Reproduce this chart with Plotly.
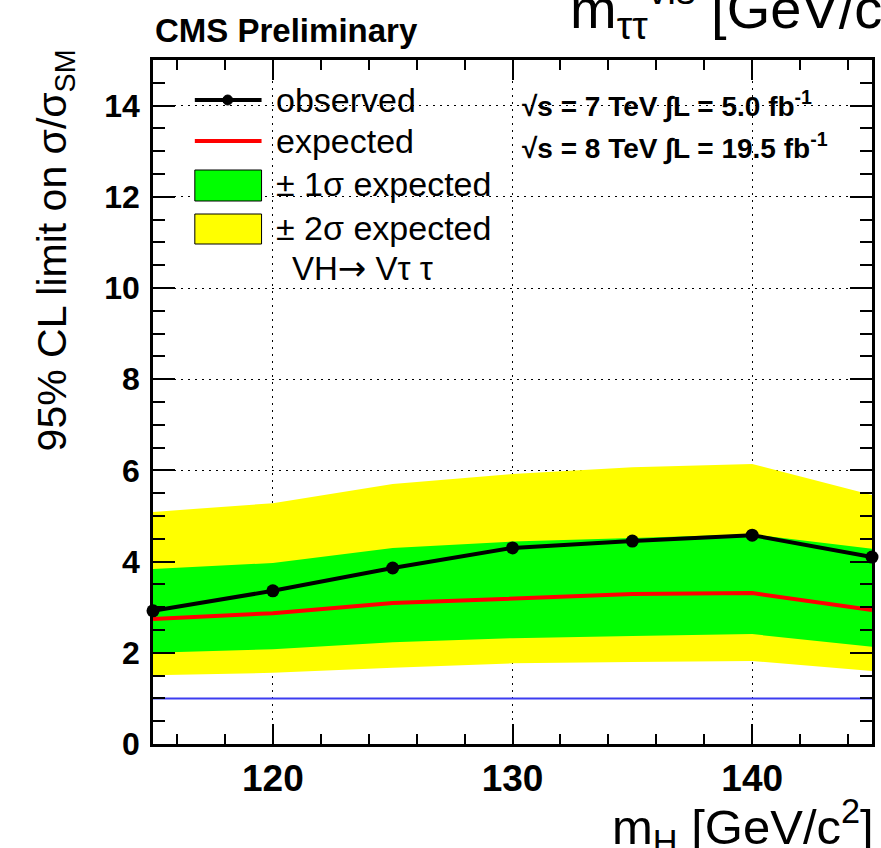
import plotly.graph_objects as go

# ---- data ----
mass = [115, 120, 125, 130, 135, 140, 145]
observed = [2.92, 3.36, 3.86, 4.30, 4.45, 4.58, 4.10]
expected = [2.74, 2.87, 3.09, 3.20, 3.29, 3.31, 2.94]
band1_lo = [2.00, 2.08, 2.23, 2.32, 2.37, 2.41, 2.13]
band1_hi = [3.84, 3.97, 4.30, 4.44, 4.52, 4.60, 4.28]
band2_lo = [1.51, 1.56, 1.67, 1.77, 1.80, 1.82, 1.60]
band2_hi = [5.09, 5.28, 5.70, 5.92, 6.07, 6.14, 5.46]
sm_x = [115, 145]
sm_y = [1, 1]

x_ticks = [120, 130, 140]
y_ticks = [0, 2, 4, 6, 8, 10, 12, 14]

FONT = "Liberation Sans, Arial, Helvetica, sans-serif"
W, H = 881, 848
L, R, T, B = 153, 875, 60, 744


def px(x):
    return (x - L) / (R - L)


def py(y):
    return (B - y) / (B - T)


fig = go.Figure()
fig.add_trace(go.Scatter(x=mass, y=band2_lo, mode="lines", line=dict(width=0),
                         showlegend=False, hoverinfo="skip"))
fig.add_trace(go.Scatter(x=mass, y=band2_hi, mode="lines", line=dict(width=0),
                         fill="tonexty", fillcolor="rgb(255,255,0)",
                         showlegend=False, hoverinfo="skip"))
fig.add_trace(go.Scatter(x=mass, y=band1_lo, mode="lines", line=dict(width=0),
                         showlegend=False, hoverinfo="skip"))
fig.add_trace(go.Scatter(x=mass, y=band1_hi, mode="lines", line=dict(width=0),
                         fill="tonexty", fillcolor="rgb(0,255,0)",
                         showlegend=False, hoverinfo="skip"))
fig.add_trace(go.Scatter(x=sm_x, y=sm_y, mode="lines",
                         line=dict(color="rgb(60,60,240)", width=2),
                         showlegend=False))
fig.add_trace(go.Scatter(x=mass, y=expected, mode="lines",
                         line=dict(color="rgb(255,0,0)", width=4),
                         showlegend=False))
fig.add_trace(go.Scatter(x=mass, y=observed, mode="lines+markers",
                         line=dict(color="black", width=4),
                         marker=dict(color="black", size=13),
                         cliponaxis=False, showlegend=False))

shapes = []
annotations = []

# white boxes behind legend / energy text (hide grid)
shapes.append(dict(type="rect", xref="paper", yref="paper", layer="between",
                   x0=px(L + 2), x1=px(560), y0=py(254), y1=py(T + 2),
                   fillcolor="white", line=dict(width=0)))
shapes.append(dict(type="rect", xref="paper", yref="paper", layer="between",
                   x0=px(505), x1=px(R - 2), y0=py(170), y1=py(86),
                   fillcolor="white", line=dict(width=0)))

# legend (manual)
lx0, lx1 = 195, 262
tx = 275
rows = [100, 141, 184, 228]
shapes.append(dict(type="line", xref="paper", yref="paper",
                   x0=px(lx0), x1=px(lx1), y0=py(rows[0]), y1=py(rows[0]),
                   line=dict(color="black", width=4)))
shapes.append(dict(type="circle", xref="paper", yref="paper",
                   x0=px(228 - 5), x1=px(228 + 5), y0=py(rows[0] + 5), y1=py(rows[0] - 5),
                   fillcolor="black", line=dict(color="black", width=1)))
shapes.append(dict(type="line", xref="paper", yref="paper",
                   x0=px(lx0), x1=px(lx1), y0=py(rows[1]), y1=py(rows[1]),
                   line=dict(color="rgb(255,0,0)", width=4)))
shapes.append(dict(type="rect", xref="paper", yref="paper",
                   x0=px(lx0), x1=px(lx1), y0=py(201), y1=py(170),
                   fillcolor="rgb(0,255,0)", line=dict(color="black", width=1)))
shapes.append(dict(type="rect", xref="paper", yref="paper",
                   x0=px(lx0), x1=px(lx1), y0=py(244), y1=py(214),
                   fillcolor="rgb(255,255,0)", line=dict(color="black", width=1)))

leg_texts = ["observed", "expected", "± 1σ expected", "± 2σ expected"]
for t, r in zip(leg_texts, rows):
    annotations.append(dict(text=t, xref="paper", yref="paper", x=px(tx), y=py(r),
                            xanchor="left", yanchor="middle", showarrow=False,
                            font=dict(family=FONT, size=34, color="black")))
annotations.append(dict(text="VH<span style=\"font-family:DejaVu Sans;font-size:34px\">→</span> Vτ τ",
                        xref="paper", yref="paper", x=px(291), y=py(268),
                        xanchor="left", yanchor="middle", showarrow=False,
                        font=dict(family=FONT, size=33, color="black")))

# energy / lumi text
annotations.append(dict(text="<b>√s = 7 TeV ∫L = 5.0 fb<sup>-1</sup></b>", xref="paper", yref="paper",
                        x=px(522), y=py(104), xanchor="left", yanchor="middle", showarrow=False,
                        font=dict(family=FONT, size=28, color="black")))
annotations.append(dict(text="<b>√s = 8 TeV ∫L = 19.5 fb<sup>-1</sup></b>", xref="paper", yref="paper",
                        x=px(522), y=py(146), xanchor="left", yanchor="middle", showarrow=False,
                        font=dict(family=FONT, size=28, color="black")))

# CMS Preliminary
annotations.append(dict(text="<b>CMS Preliminary</b>", xref="paper", yref="paper",
                        x=px(153), y=py(31), xanchor="left", yanchor="middle", showarrow=False,
                        font=dict(family=FONT, size=33, color="black")))

# clipped top-right title
annotations.append(dict(text="m<sub>ττ</sub><sup>vis</sup> [GeV/c<sup>2</sup>]", xref="paper", yref="paper",
                        x=px(570), y=py(8), xanchor="left", yanchor="middle", showarrow=False,
                        font=dict(family=FONT, size=56, color="black")))

# axis titles
annotations.append(dict(text="m<sub>H</sub> [GeV/c<sup>2</sup>]", xref="paper", yref="paper",
                        x=px(879), y=py(826), xanchor="right", yanchor="middle", showarrow=False,
                        font=dict(family=FONT, size=49, color="black")))
annotations.append(dict(text="95% CL limit on σ/σ<sub>SM</sub>", xref="paper", yref="paper",
                        x=px(55), y=py(250), xanchor="center", yanchor="middle", showarrow=False,
                        textangle=-90,
                        font=dict(family=FONT, size=41, color="black")))

fig.update_layout(
    width=W, height=H,
    margin=dict(l=L, r=W - R, t=T, b=H - B, pad=0),
    paper_bgcolor="white", plot_bgcolor="white",
    shapes=shapes, annotations=annotations,
    showlegend=False,
    xaxis=dict(range=[115, 145], tickvals=x_ticks, ticktext=[str(v) for v in x_ticks],
               ticks="inside", ticklen=20, tickwidth=2, tickcolor="black",
               showline=True, linecolor="black", linewidth=2.5, mirror="allticks",
               showgrid=True, gridcolor="black", gridwidth=1, griddash="2px,5px",
               zeroline=False,
               minor=dict(dtick=2, tick0=120, ticks="inside", ticklen=10, tickwidth=2,
                          tickcolor="black", showgrid=False),
               tickfont=dict(family=FONT, size=37, color="black", weight="bold"),
               ticklabelstandoff=0),
    yaxis=dict(range=[0, 15], tickvals=y_ticks, ticktext=[str(v) for v in y_ticks],
               ticks="inside", ticklen=22, tickwidth=2, tickcolor="black",
               showline=True, linecolor="black", linewidth=2.5, mirror="allticks",
               showgrid=True, gridcolor="black", gridwidth=1, griddash="2px,5px",
               zeroline=False,
               minor=dict(dtick=0.5, tick0=0, ticks="inside", ticklen=12, tickwidth=2,
                          tickcolor="black", showgrid=False),
               tickfont=dict(family=FONT, size=32, color="black", weight="bold"),
               ticklabelstandoff=4),
)

fig.write_html("out.html")
